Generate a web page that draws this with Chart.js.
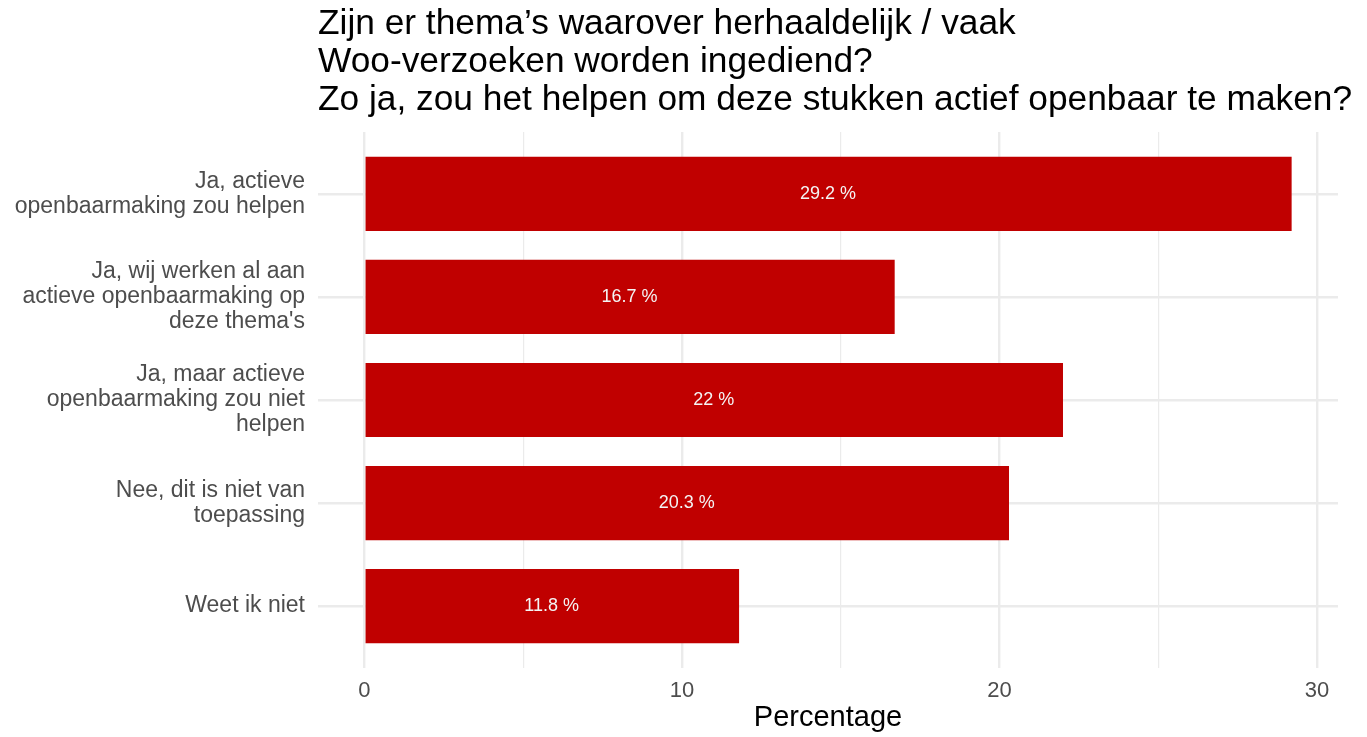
<!DOCTYPE html>
<html>
<head>
<meta charset="utf-8">
<script src="https://cdn.jsdelivr.net/npm/chart.js@4.4.1/dist/chart.umd.min.js"></script>
<style>
  html, body { margin:0; padding:0; background:#fff; }
  #wrap { width:1367px; height:737px; }
</style>
</head>
<body>
<div id="wrap"><canvas id="chart" width="1367" height="737"></canvas></div>
<script>
// chart data
const titleLines = [
  'Zijn er thema\u2019s waarover herhaaldelijk / vaak',
  'Woo-verzoeken worden ingediend?',
  'Zo ja, zou het helpen om deze stukken actief openbaar te maken?'
];
const categories = [
  ['Ja, actieve', 'openbaarmaking zou helpen'],
  ['Ja, wij werken al aan', 'actieve openbaarmaking op', "deze thema's"],
  ['Ja, maar actieve', 'openbaarmaking zou niet', 'helpen'],
  ['Nee, dit is niet van', 'toepassing'],
  ['Weet ik niet']
];
const percentages = [29.2, 16.7, 22, 20.3, 11.8];
const valueLabels = ['29.2 %', '16.7 %', '22 %', '20.3 %', '11.8 %'];
const xTicks = [0, 5, 10, 15, 20, 25, 30];
const xAxisTitle = 'Percentage';

const FONT = '"Liberation Sans", Arial, sans-serif';

const titlePlugin = {
  id: 'titleLines',
  afterDraw(chart) {
    const ctx = chart.ctx;
    ctx.save();
    ctx.fillStyle = '#000';
    ctx.font = '35.3px ' + FONT;
    ctx.textAlign = 'left';
    ctx.textBaseline = 'alphabetic';
    titleLines.forEach((t, i) => ctx.fillText(t, chart.chartArea.left, 34 + i * 38));
    ctx.restore();
  }
};

const barLabels = {
  id: 'barLabels',
  afterDatasetsDraw(chart) {
    const ctx = chart.ctx;
    const meta = chart.getDatasetMeta(0);
    ctx.save();
    ctx.fillStyle = '#f4f4f4';
    ctx.font = '18px ' + FONT;
    ctx.textAlign = 'center';
    ctx.textBaseline = 'middle';
    meta.data.forEach((bar, i) => {
      const xs = chart.scales.x;
      const px = xs.getPixelForValue(percentages[i] / 2);
      ctx.fillText(valueLabels[i], px, bar.y);
    });
    ctx.restore();
  }
};

const bgPlugin = {
  id: 'bg',
  beforeDraw(chart) {
    const ctx = chart.ctx;
    ctx.save();
    ctx.fillStyle = '#fff';
    ctx.fillRect(0, 0, chart.width, chart.height);
    ctx.restore();
  }
};

new Chart(document.getElementById('chart'), {
  type: 'bar',
  data: {
    datasets: [{
      data: percentages.map((v, i) => ({ x: v, y: i })),
      backgroundColor: '#C00000',
      borderWidth: 0,
      categoryPercentage: 0.72,
      barPercentage: 1
    }]
  },
  options: {
    indexAxis: 'y',
    responsive: false,
    animation: false,
    layout: { padding: { top: 132, right: 29, bottom: 0, left: 0 } },
    plugins: {
      legend: { display: false },
      tooltip: { enabled: false }
    },
    scales: {
      x: {
        type: 'linear',
        min: -1.46,
        max: 30.66,
        afterBuildTicks: s => { s.ticks = xTicks.map(v => ({ value: v })); },
        afterFit: s => { s.height = 69; },
        border: { display: false },
        grid: {
          color: '#ebebeb',
          lineWidth: c => (c.tick && c.tick.value % 10 === 0) ? 2.4 : 1.2,
          drawTicks: false
        },
        ticks: {
          padding: 10,
          color: '#4d4d4d',
          font: { family: FONT, size: 22 },
          maxRotation: 0,
          callback: v => (v % 10 === 0 ? String(v) : '')
        },
        title: {
          display: true,
          text: xAxisTitle,
          color: '#000',
          font: { family: FONT, size: 29 },
          padding: { top: 0, bottom: 2 }
        }
      },
      y: {
        type: 'linear',
        reverse: true,
        offset: false,
        min: -0.6,
        max: 4.6,
        afterBuildTicks: s => { s.ticks = categories.map((c, i) => ({ value: i })); },
        afterFit: s => { s.width = 318; },
        border: { display: false },
        grid: { color: '#ebebeb', lineWidth: 2.4, drawTicks: false, offset: false },
        ticks: {
          padding: 13,
          color: '#4d4d4d',
          font: { family: FONT, size: 23, lineHeight: 1.09 },
          callback: v => categories[v]
        }
      }
    }
  },
  plugins: [bgPlugin, titlePlugin, barLabels]
});
</script>
</body>
</html>
